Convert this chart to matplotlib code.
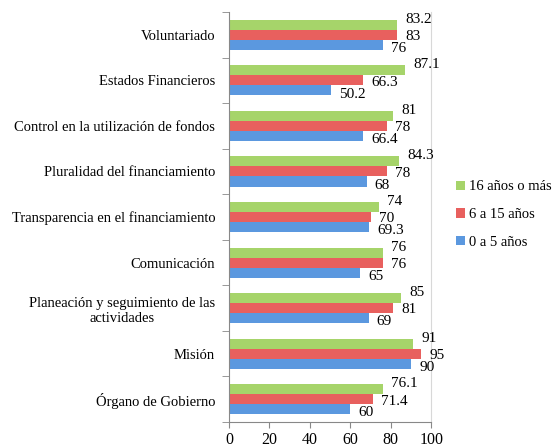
import matplotlib.pyplot as plt
import numpy as np

plt.rcParams['font.family'] = ['Liberation Serif', 'DejaVu Serif']

categories = ['Voluntariado', 'Estados Financieros', 'Control en la utilización de fondos',
              'Pluralidad del financiamiento', 'Transparencia en el financiamiento',
              'Comunicación', 'Planeación y seguimiento de las\nactividades',
              'Misión', 'Órgano de Gobierno']
mas16 = [83.2, 87.1, 81, 84.3, 74, 76, 85, 91, 76.1]
de6a15 = [83, 66.3, 78, 78, 70, 76, 81, 95, 71.4]
de0a5 = [76, 50.2, 66.4, 68, 69.3, 65, 69, 90, 60]
labels = ['16 años o más', '6 a 15 años', '0 a 5 años']
colors = ['#a6d46a', '#e8605e', '#5b98df']

fig = plt.figure(figsize=(5.6, 4.47), dpi=100)
ax = fig.add_axes([0.409, 0.056, 0.361, 0.917])

n = len(categories)
y = np.arange(n)[::-1].astype(float)
h = 0.22
series = [mas16, de6a15, de0a5]
offsets = [h, 0, -h]
label_dy = [0.12, -0.04, -0.08]
for vals, off, col, lab, dy in zip(series, offsets, colors, labels, label_dy):
    ax.barh(y + off, vals, height=h, color=col, label=lab, edgecolor='none')
    for yi, v in zip(y, vals):
        ax.text(v + 4, yi + off + dy, f'{v:g}', va='center', ha='left', fontsize=11)

ax.set_xlim(0, 100)
ax.set_ylim(-0.5, n - 0.5)
ax.set_xticks(np.arange(0, 101, 20))
ax.tick_params(axis='x', labelsize=11.5, direction='out', length=4, color='#888888')
ax.set_yticks(y)
ax.set_yticklabels(categories, fontsize=10.5, multialignment='center')
ax.tick_params(axis='y', length=0, pad=10)
ax.set_yticks(np.arange(-0.5, n, 1.0), minor=True)
ax.tick_params(axis='y', which='minor', length=5, direction='out', color='#888888')
ax.spines['top'].set_visible(False)
ax.spines['right'].set_color('#d8d8d8')
ax.spines['left'].set_color('#888888')
ax.spines['bottom'].set_color('#888888')

fig.legend(loc='center left', bbox_to_anchor=(0.815, 0.52), frameon=False, fontsize=10.5,
           handlelength=0.6, handleheight=0.6, handletextpad=0.25, labelspacing=1.0,
           borderaxespad=0, borderpad=0)

fig.savefig('out.png', dpi=100)
